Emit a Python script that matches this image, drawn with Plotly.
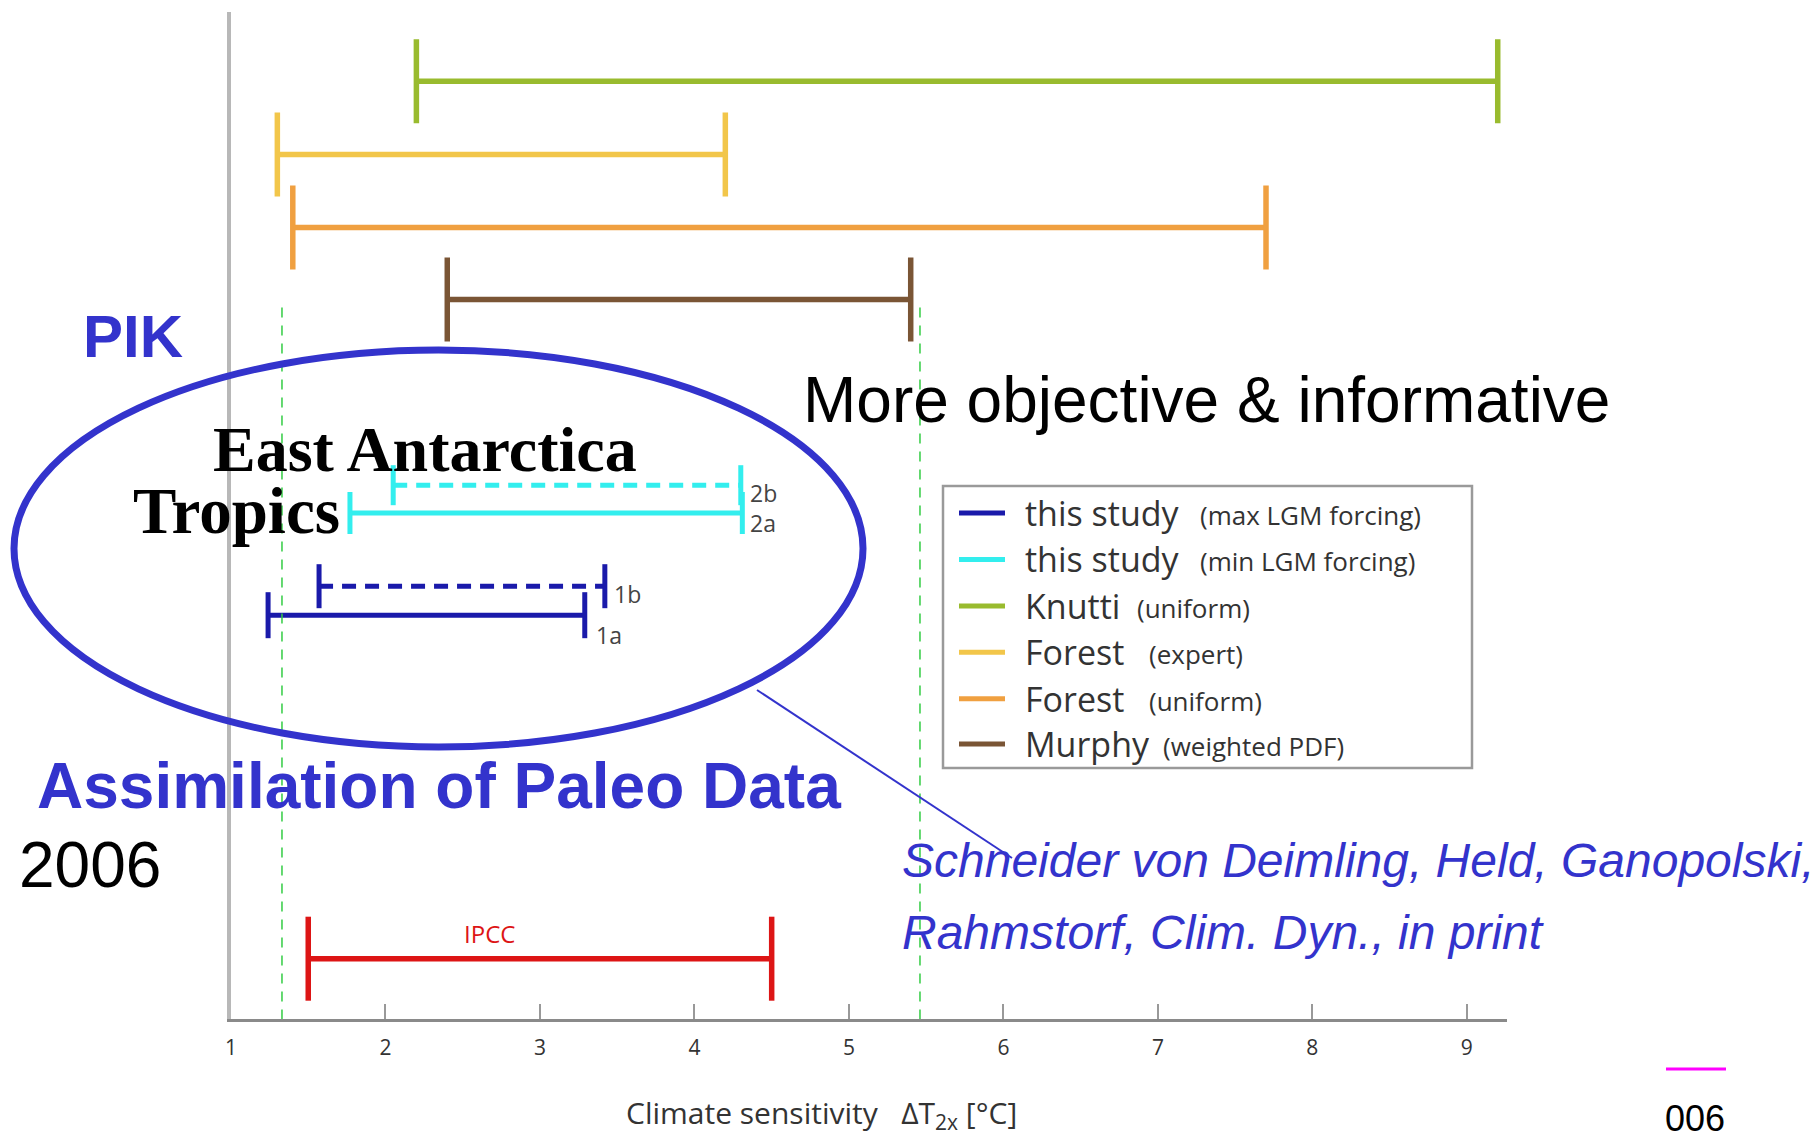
import plotly.graph_objects as go

W, H = 1820, 1139

# ---------------- data ----------------
studies = ["Knutti", "Forest expert", "Forest uniform", "Murphy",
           "2b", "2a", "1b", "1a", "IPCC"]
low = [2.2, 1.3, 1.4, 2.4, 2.05, 1.77, 1.57, 1.24, 1.5]
high = [9.2, 4.2, 7.7, 5.4, 4.3, 4.31, 3.42, 3.29, 4.5]
row_level = [69.6, 142.8, 215.9, 287.9, 473.6, 501.4, 574.6, 603.6, 947.1]
colors = ["#99bb2e", "#f2c64a", "#f0a040", "#7a5535",
          "#33eeee", "#33eeee", "#1a1aaa", "#1a1aaa", "#dd1515"]
dashed = [False, False, False, False, True, False, True, False, False]
cap_half = [42, 42, 42, 42, 20, 21, 22, 23, 42]
run_labels = ["", "", "", "", "2b", "2a", "1b", "1a", "IPCC"]

ref_lines = [1.33, 5.46]
tick_vals = [1, 2, 3, 4, 5, 6, 7, 8, 9]
tick_text = ["1", "2", "3", "4", "5", "6", "7", "8", "9"]

legend_main = ["this study", "this study", "Knutti", "Forest", "Forest", "Murphy"]
legend_sub = ["(max LGM forcing)", "(min LGM forcing)", "(uniform)", "(expert)",
              "(uniform)", "(weighted PDF)"]
legend_colors = ["#1a1aaa", "#33eeee", "#99bb2e", "#f2c64a", "#f0a040", "#7a5535"]

# ---------------- figure ----------------
fig = go.Figure()

for lo, hi, y, c, d, ch in zip(low, high, row_level, colors, dashed, cap_half):
    lw = 5.5 if ch > 30 else 5
    fig.add_trace(go.Scatter(x=[lo, hi], y=[y, y], mode="lines",
                             line=dict(color=c, width=lw, dash="14px,9px" if d else "solid"),
                             showlegend=False, hoverinfo="skip"))
    fig.add_trace(go.Scatter(x=[lo, lo, None, hi, hi], y=[y - ch, y + ch, None, y - ch, y + ch],
                             mode="lines", line=dict(color=c, width=lw),
                             showlegend=False, hoverinfo="skip"))

for xv in ref_lines:
    fig.add_trace(go.Scatter(x=[xv, xv], y=[296, 1007.4], mode="lines",
                             line=dict(color="#33cc44", width=1.5, dash="10px,8px"),
                             showlegend=False, hoverinfo="skip"))


def px(x):
    return x / W


def py(y):
    return 1 - y / H


ann = []


def text(x, y, s, size, color="#000000", family="Arial, Liberation Sans, sans-serif",
         xanchor="left", bold=False, italic=False):
    if bold:
        s = "<b>" + s + "</b>"
    if italic:
        s = "<i>" + s + "</i>"
    ann.append(dict(x=px(x), y=py(y), xref="paper", yref="paper", text=s, showarrow=False,
                    xanchor=xanchor, yanchor="middle",
                    font=dict(size=size, color=color, family=family)))


# run labels near bars
small_font = "Open Sans, sans-serif"
label_pos = {"2b": (748, 493), "2a": (748, 523), "1b": (612, 594), "1a": (594, 635)}
for lab in run_labels:
    if lab in label_pos:
        x, y = label_pos[lab]
        text(x, y, lab, 23, "#444444", small_font)
text(489, 933, run_labels[8], 24, "#dd1515", small_font, xanchor="center")

# axis title
text(821, 1114, "Climate sensitivity   ΔT<sub>2x</sub> [°C]", 30, "#333333", small_font,
     xanchor="center")

# overlay texts
blue = "#3333cc"
text(81, 337, "PIK", 60, blue, bold=True)
text(801, 400, "More objective &amp; informative", 64, "#000000")
text(211, 449, "East Antarctica", 64, "#000000", "Liberation Serif, Times New Roman, serif", bold=True)
text(131, 511, "Tropics", 65, "#000000", "Liberation Serif, Times New Roman, serif", bold=True)
text(35, 786, "Assimilation of Paleo Data", 64, blue, bold=True)
text(17, 865, "2006", 64, "#000000")
text(900, 860, "Schneider von Deimling, Held, Ganopolski,", 48, blue, italic=True)
text(900, 932, "Rahmstorf, Clim. Dyn., in print", 48, blue, italic=True)
text(1663, 1118, "006", 36, "#000000")

# legend
leg_rows = [513, 559.4, 605.9, 652.3, 698.7, 744]
sub_x = [1198, 1198, 1135, 1147, 1147, 1161]
shapes = []
for i, (m, s, c) in enumerate(zip(legend_main, legend_sub, legend_colors)):
    yy = leg_rows[i]
    shapes.append(dict(type="line", xref="paper", yref="paper", x0=px(959), x1=px(1005),
                       y0=py(yy), y1=py(yy), line=dict(color=c, width=5)))
    text(1023, yy, m, 34, "#333333", small_font)
    text(sub_x[i], yy + 2, s, 26, "#333333", small_font)

shapes.append(dict(type="rect", xref="paper", yref="paper", x0=px(943), x1=px(1472),
                   y0=py(486), y1=py(768), line=dict(color="#9a9a9a", width=2.5),
                   fillcolor="rgba(0,0,0,0)"))

# ellipse and connector
shapes.append(dict(type="circle", xref="paper", yref="paper", x0=px(14), x1=px(863),
                   y0=py(350), y1=py(747), line=dict(color=blue, width=7), layer="above"))
shapes.append(dict(type="line", xref="paper", yref="paper", x0=px(757), y0=py(690),
                   x1=px(1012), y1=py(858), line=dict(color=blue, width=2)))
shapes.append(dict(type="line", xref="paper", yref="paper", x0=px(1666), y0=py(1069),
                   x1=px(1726), y1=py(1069), line=dict(color="#ff00ff", width=3)))

fig.update_layout(
    width=W, height=H,
    margin=dict(l=0, r=0, t=0, b=0),
    paper_bgcolor="white", plot_bgcolor="white",
    showlegend=False,
    annotations=ann, shapes=shapes,
    xaxis=dict(domain=[231 / W, 1507 / W], range=[1, 9.26], showgrid=False, zeroline=False,
               showline=True, linecolor="#8a8a8a", linewidth=3,
               ticks="inside", ticklen=15, tickwidth=1.5, tickcolor="#999999",
               tickvals=tick_vals, ticktext=tick_text,
               tickfont=dict(size=21, color="#333333", family=small_font),
               ticklabelstandoff=8, automargin=False),
    yaxis=dict(domain=[1 - 1019 / H, 1 - 11.6 / H], range=[1007.4, 0], showgrid=False,
               zeroline=False, showline=True, linecolor="#b8b8b8", linewidth=3.5,
               showticklabels=False, ticks="", automargin=False),
)

fig.write_html("out.html", config={"displayModeBar": False},
               post_script="document.body.style.margin='0px';document.body.style.overflow='hidden';")
